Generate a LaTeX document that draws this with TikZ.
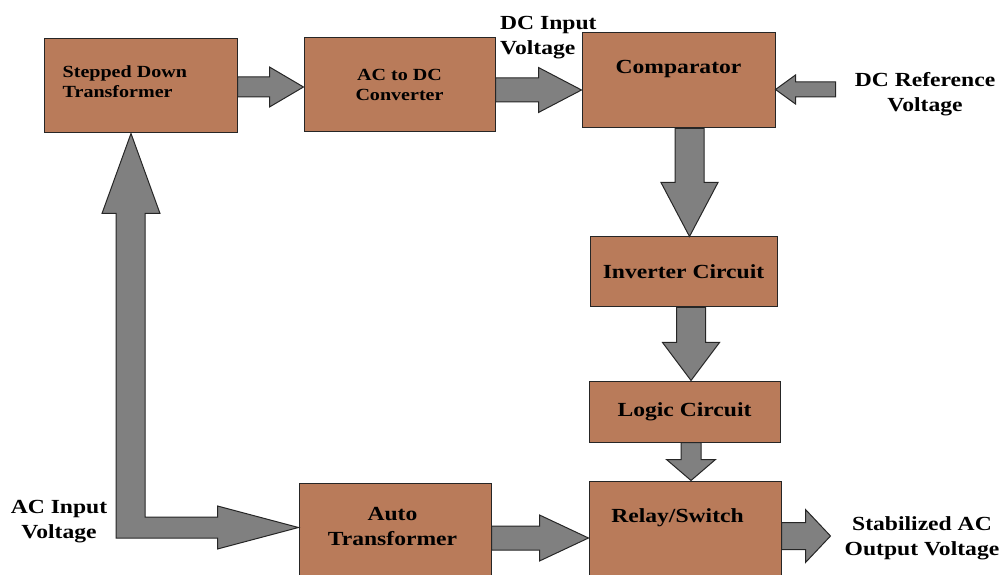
\documentclass[tikz,border=0pt]{standalone}
\usepackage{fontspec}
\setmainfont{Liberation Serif}[FakeStretch=1.18]
\usetikzlibrary{positioning,calc}
\definecolor{boxbrown}{RGB}{185,123,90}
\definecolor{arrgray}{RGB}{128,128,128}
% block arrow: tail, tip, shaft half width, head half width, head length
\newcommand{\fatarrow}[5]{%
  \coordinate (hb) at ($(#2)!#5pt!(#1)$);
  \draw[fat] ($(#1)!#3pt!90:(#2)$) -- ($(hb)!#3pt!90:(#2)$) -- ($(hb)!#4pt!90:(#2)$) -- (#2)
    -- ($(hb)!#4pt!-90:(#2)$) -- ($(hb)!#3pt!-90:(#2)$) -- ($(#1)!#3pt!-90:(#2)$) -- cycle;}
\begin{document}
\begin{tikzpicture}[x=1pt, y=1pt,
  blk/.style={draw=black!85, line width=1pt, fill=boxbrown, inner sep=0pt, align=center, font=\fontsize{20}{25}\selectfont\bfseries},
  fat/.style={draw=black!85, line width=1pt, fill=arrgray, line join=miter},
  txt/.style={font=\fontsize{20}{25}\selectfont\bfseries, inner sep=0pt, align=center},
  stxt/.style={txt, font=\fontsize{17}{20}\selectfont\bfseries}]
\useasboundingbox (0,0) rectangle (1005,574);
\clip (0,0) rectangle (1005,574);

% blocks
\node[blk, minimum width=193pt, minimum height=94pt] (sdt) at (140.5,488) {};
\node[blk, minimum width=191pt, minimum height=94pt, right=66pt of sdt, yshift=1pt, font=\fontsize{17}{20}\selectfont\bfseries] (acdc) {AC to DC\\Converter};
\node[blk, minimum width=193pt, minimum height=95pt, right=86pt of acdc, yshift=4.5pt] (comp) {};
\node[blk, minimum width=187pt, minimum height=70pt, below=108pt of comp, xshift=5pt] (inv) {Inverter Circuit};
\node[blk, minimum width=191pt, minimum height=61pt, below=73pt of inv, xshift=1pt] (logic) {Logic Circuit};
\node[blk, minimum width=192pt, minimum height=110pt, below=38pt of logic, xshift=0.5pt] (relay) {};
\node[blk, minimum width=192pt, minimum height=110pt, left=97pt of relay, yshift=-2pt] (auto) {};

% texts in blocks
\node[stxt, anchor=west, align=left] (sdtT) at ([xshift=19pt, yshift=4pt]sdt.west) {Stepped Down\\Transformer};
\node[txt] (compT) at ([yshift=-37pt]comp.north) {Comparator};
\node[txt] (relayT) at ([xshift=-7.5pt, yshift=-37pt]relay.north) {Relay/Switch};
\node[txt] (autoT) at ([xshift=-2.5pt, yshift=-44pt]auto.north) {Auto\\Transformer};

% outside labels
\node[txt, anchor=west, align=left] (dcin) at (500,536.5) {DC Input\\Voltage};
\node[txt] (dcref) at (925,479.5) {DC Reference\\Voltage};
\node[txt] (acinT) at (59,52.5) {AC Input\\Voltage};
\node[txt] (acout) at (922,35.5) {Stabilized AC\\Output Voltage};

% arrow ends
\coordinate (t1) at ([yshift=-1pt]sdt.east); \coordinate (h1) at (t1 -| acdc.west);
\coordinate (t2) at ([yshift=-5pt]acdc.east); \coordinate (h2) at (t2 -| comp.west);
\coordinate (h3) at ([yshift=-9pt]comp.east); \coordinate (refin) at ([xshift=60pt]h3);
\coordinate (t4) at ([xshift=11pt]comp.south); \coordinate (h4) at (t4 |- inv.north);
\coordinate (t5) at ([xshift=7.5pt]inv.south); \coordinate (h5) at (t5 |- logic.north);
\coordinate (t6) at ([xshift=6.5pt]logic.south); \coordinate (h6) at (t6 |- relay.north);
\coordinate (t7) at (auto.east); \coordinate (h7) at (t7 -| relay.west);
\coordinate (outTip) at ([xshift=49pt]relay.east);

% arrows
\fatarrow{t1}{h1}{10}{20}{34}
\fatarrow{t2}{h2}{12}{22.5}{43}
\fatarrow{refin}{h3}{7.5}{14.5}{20}
\fatarrow{t4}{h4}{14.5}{28.5}{54}
\fatarrow{t5}{h5}{14.5}{28.5}{38}
\fatarrow{t6}{h6}{10}{24.5}{21}
\fatarrow{t7}{h7}{12}{23}{49}
\fatarrow{relay.east}{outTip}{13.5}{26.5}{25}

% AC input, split to both transformers
\coordinate (upTip) at ([xshift=-9.5pt]sdt.south);
\coordinate (rtTip) at ([yshift=10.5pt]auto.west);
\coordinate (upB) at ([yshift=-80pt]upTip);
\coordinate (rtB) at ([xshift=-81pt]rtTip);
\draw[fat] ([xshift=-15pt]upB) -- ([xshift=-29pt]upB) -- (upTip) -- ([xshift=29pt]upB) -- ([xshift=14pt]upB)
  |- ([yshift=10.5pt]rtB) -- ([yshift=21.5pt]rtB) -- (rtTip) -- ([yshift=-21.5pt]rtB) -- ([yshift=-10.5pt]rtB)
  -| ([xshift=-15pt]upB) -- cycle;
\end{tikzpicture}
\end{document}
